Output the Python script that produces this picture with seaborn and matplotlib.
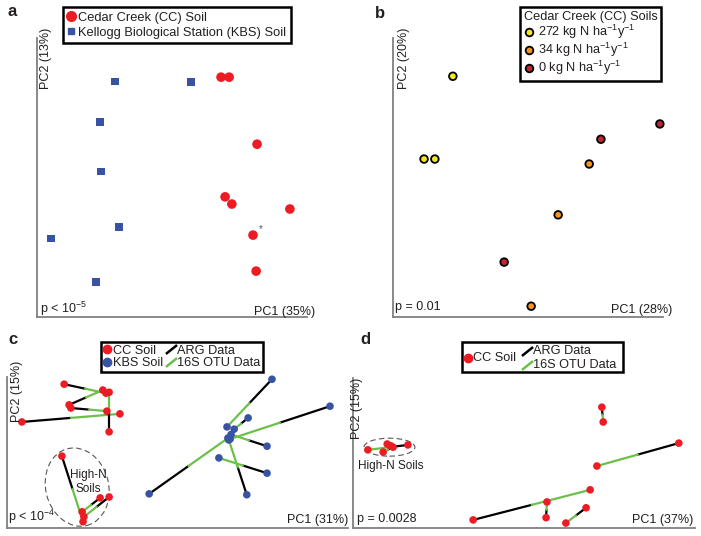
import pandas as pd
import seaborn as sns
import matplotlib.pyplot as plt
from matplotlib.lines import Line2D
from matplotlib.patches import Ellipse, Rectangle

sns.set_style('white')
plt.rcParams['font.family'] = ['Liberation Sans', 'DejaVu Sans']
plt.rcParams['mathtext.default'] = 'regular'
plt.rcParams['text.color'] = '#231f20'

RED = '#ed1c24'
BLUE = '#3953a4'
GREEN = '#6cc04a'
GREY = '#808080'
INK = '#231f20'

# ---- panel a: ARG ordination, both sites
a_soil = ['CC'] * 8 + ['KBS'] * 7
a_pc1 = [0.109, 0.127, 0.189, 0.118, 0.133, 0.262, 0.180, 0.187,
         -0.127, 0.042, -0.160, -0.158, -0.118, -0.269, -0.169]
a_pc2 = [0.222, 0.222, 0.073, -0.044, -0.060, -0.071, -0.129, -0.209,
         0.213, 0.211, 0.122, 0.013, -0.111, -0.136, -0.233]

# ---- panel b: Cedar Creek only, by N level
b_level = ['272'] * 3 + ['34'] * 3 + ['0'] * 3
b_pc1 = [-0.167, -0.231, -0.207, 0.136, 0.067, 0.007, 0.162, 0.293, -0.053]
b_pc2 = [0.224, 0.040, 0.040, 0.029, -0.084, -0.287, 0.084, 0.118, -0.189]

# ---- panel c: procrustes ARG vs 16S, both sites
c_soil = ['CC'] * 8 + ['KBS'] * 7
c_arg_pc1 = [-0.252, -0.241, -0.237, -0.346, -0.152, -0.257, -0.172, -0.152,
             0.210, 0.339, 0.157, 0.199, 0.199, 0.154, -0.063]
c_arg_pc2 = [0.152, 0.106, 0.099, 0.068, 0.046, -0.008, -0.101, -0.099,
             0.163, 0.103, 0.077, 0.014, -0.046, -0.094, -0.092]
c_otu_pc1 = [-0.159, -0.166, -0.157, -0.128, -0.152, -0.210, -0.212, -0.208,
             0.110, 0.117, 0.126, 0.119, 0.092, 0.114, 0.112]
c_otu_pc2 = [0.132, 0.139, 0.092, 0.086, 0.134, -0.154, -0.132, -0.143,
             0.057, 0.030, 0.052, 0.040, -0.012, 0.028, 0.032]

# ---- panel d: procrustes ARG vs 16S, Cedar Creek only
d_arg_pc1 = [0.173, 0.344, -0.113, 0.049, 0.138, -0.258, -0.296, -0.291]
d_arg_pc2 = [0.102, 0.022, -0.149, -0.144, -0.122, 0.018, 0.016, 0.013]
d_otu_pc1 = [0.176, 0.162, 0.147, 0.051, 0.093, -0.347, -0.304, -0.313]
d_otu_pc2 = [0.069, -0.029, -0.082, -0.109, -0.156, 0.007, 0.020, 0.002]

W, H = 701, 536
fig = plt.figure(figsize=(W / 100, H / 100), dpi=100)


def panel(l, t, r, b, xlim, ylim):
    ax = fig.add_axes([l / W, 1 - b / H, (r - l) / W, (b - t) / H])
    ax.set_xlim(*xlim)
    ax.set_ylim(*ylim)
    for s in ['top', 'right']:
        ax.spines[s].set_visible(False)
    for s in ['left', 'bottom']:
        ax.spines[s].set_color(GREY)
        ax.spines[s].set_linewidth(1.3)
    ax.set_xticks([])
    ax.set_yticks([])
    ax.patch.set_alpha(0)
    return ax


def labels(ax, pc1, pc2, p, p1pos, p2pos, ppos):
    ax.text(p2pos[0], p2pos[1], pc2, rotation=90, ha='center', va='top',
            fontsize=9, transform=ax.transAxes)
    ax.text(p1pos[0], p1pos[1], pc1, ha='right', va='center',
            fontsize=9, transform=ax.transAxes)
    ax.text(ppos[0], ppos[1], p, ha='left', va='center',
            fontsize=9, transform=ax.transAxes)


def procrustes(ax, ax1, ay1, ox1, oy1, colors):
    for x1, y1, x2, y2 in zip(ax1, ay1, ox1, oy1):
        mx, my = (x1 + x2) / 2, (y1 + y2) / 2
        ax.plot([x1, mx], [y1, my], color='black', lw=1.6, zorder=2)
        ax.plot([mx, x2], [my, y2], color=GREEN, lw=1.6, zorder=2)
    pts = pd.DataFrame({'x': list(ax1) + list(ox1), 'y': list(ay1) + list(oy1),
                        'c': list(colors) * 2})
    sns.scatterplot(data=pts, x='x', y='y', hue='c', palette={RED: RED, BLUE: BLUE},
                    s=30, edgecolor='none', legend=False, ax=ax, zorder=3, clip_on=False)
    ax.set_xlabel('')
    ax.set_ylabel('')


def boxed(leg):
    leg.get_frame().set_linewidth(1.8)
    for t in leg.get_texts():
        t.set_color(INK)


# ================= a
ax_a = panel(37, 38, 307, 317, (-0.300, 0.300), (-0.311, 0.309))
df_a = pd.DataFrame({'PC1': a_pc1, 'PC2': a_pc2, 'soil': a_soil})
sns.scatterplot(data=df_a[df_a.soil == 'CC'], x='PC1', y='PC2', color=RED, marker='o',
                s=48, edgecolor='none', legend=False, ax=ax_a, clip_on=False)
sns.scatterplot(data=df_a[df_a.soil == 'KBS'], x='PC1', y='PC2', color=BLUE, marker='s',
                s=28, edgecolor='none', legend=False, ax=ax_a, clip_on=False)
ax_a.set_xlabel('')
ax_a.set_ylabel('')
ax_a.text(a_pc1[6] + 0.012, a_pc2[6] + 0.006, '*', fontsize=7, color='#555555')
labels(ax_a, 'PC1 (35%)', 'PC2 (13%)', 'p < 10$^{-5}$',
       (1.03, 0.018), (0.033, 1.036), (0.011, 0.028))
leg_a = fig.legend(handles=[Line2D([], [], ls='', marker='o', color=RED, markersize=7),
                            Line2D([], [], ls='', marker='s', color=BLUE, markersize=5)],
                   labels=['Cedar Creek (CC) Soil', 'Kellogg Biological Station (KBS) Soil'],
                   loc='upper left', bbox_to_anchor=(63 / W, 1 - 7 / H), fontsize=9.3,
                   fancybox=False, edgecolor='black', framealpha=1, borderpad=0.35,
                   labelspacing=0.25, handlelength=0.6, handletextpad=0.25, borderaxespad=0)
boxed(leg_a)

# ================= b
ax_b = panel(393, 38, 663, 317, (-0.300, 0.300), (-0.311, 0.309))
df_b = pd.DataFrame({'PC1': b_pc1, 'PC2': b_pc2, 'N': b_level})
pal_b = {'272': '#f5e61e', '34': '#f7941d', '0': '#c1272d'}
sns.scatterplot(data=df_b, x='PC1', y='PC2', hue='N', palette=pal_b, s=30,
                edgecolor='black', linewidth=1.3, legend=False, ax=ax_b, clip_on=False)
ax_b.set_xlabel('')
ax_b.set_ylabel('')
labels(ax_b, 'PC1 (28%)', 'PC2 (20%)', 'p = 0.01',
       (1.033, 0.025), (0.041, 1.036), (0.007, 0.036))
leg_b = fig.legend(handles=[Line2D([], [], ls='', marker='o', markerfacecolor=pal_b[k],
                                   markeredgecolor='black', markeredgewidth=1.3, markersize=5.5)
                            for k in ['272', '34', '0']],
                   labels=['272 kg N ha$^{-1}$y$^{-1}$', '34 kg N ha$^{-1}$y$^{-1}$',
                           '0 kg N ha$^{-1}$y$^{-1}$'],
                   title='Cedar Creek (CC) Soils', title_fontsize=9.2,
                   loc='upper left', bbox_to_anchor=(520 / W, 1 - 7 / H), fontsize=9.2,
                   fancybox=False, edgecolor='black', framealpha=1, borderpad=0.3,
                   labelspacing=0.0, handlelength=0.8, handletextpad=0.3, borderaxespad=0)
boxed(leg_b)
leg_b.get_title().set_color(INK)
leg_b._legend_box.align = 'left'

# ================= c
ax_c = panel(7, 377, 348, 528, (-0.379, 0.379), (-0.168, 0.168))
procrustes(ax_c, c_arg_pc1, c_arg_pc2, c_otu_pc1, c_otu_pc2,
           [RED if s == 'CC' else BLUE for s in c_soil])
ax_c.add_patch(Ellipse((-0.223, -0.077), 0.140, 0.176, angle=14, fill=False,
                       ls=(0, (5, 3)), ec='#555555', lw=0.8))
ax_c.text(-0.199, -0.066, 'High-N\nSoils', ha='center', va='center', fontsize=8.5,
          linespacing=1.2)
labels(ax_c, 'PC1 (31%)', 'PC2 (15%)', 'p < 10$^{-4}$',
       (1.0, 0.053), (0.03, 1.11), (0.003, 0.075))

slash = [(-1, -0.8), (1, 0.8)]
line_h = [Line2D([], [], ls='', marker=slash, markeredgecolor='black', markeredgewidth=1.8,
                 markersize=8),
          Line2D([], [], ls='', marker=slash, markeredgecolor=GREEN, markeredgewidth=1.8,
                 markersize=8)]
dot = lambda c: Line2D([], [], ls='', marker='o', color=c, markersize=6)
leg_c = fig.legend(handles=[dot(RED), dot(BLUE)] + line_h,
                   labels=['CC Soil', 'KBS Soil', 'ARG Data', '16S OTU Data'], ncol=2,
                   loc='upper left', bbox_to_anchor=(101 / W, 1 - 342 / H), fontsize=9.2,
                   fancybox=False, edgecolor='black', framealpha=1, borderpad=0.2,
                   labelspacing=0.05, handlelength=0.55, handletextpad=0.2,
                   columnspacing=0.35, borderaxespad=0)
boxed(leg_c)

# ================= d
ax_d = panel(353, 378, 695, 528, (-0.380, 0.380), (-0.167, 0.167))
procrustes(ax_d, d_arg_pc1, d_arg_pc2, d_otu_pc1, d_otu_pc2, [RED] * 8)
ax_d.add_patch(Ellipse((-0.299, 0.013), 0.113, 0.040, fill=False,
                       ls=(0, (5, 3)), ec='#555555', lw=0.8))
ax_d.text(-0.296, -0.029, 'High-N Soils', ha='center', va='center', fontsize=8.5)
labels(ax_d, 'PC1 (37%)', 'PC2 (15%)', 'p = 0.0028',
       (0.994, 0.053), (0.012, 1.0), (0.012, 0.06))

fig.add_artist(Rectangle((462 / W, 1 - 372 / H), 161 / W, 30 / H, transform=fig.transFigure,
                         fill=False, ec='black', lw=1.8))
fig.add_artist(Line2D([468 / W], [1 - 358 / H], ls='', marker='o', color=RED, markersize=6,
                      transform=fig.transFigure))
fig.text(473 / W, 1 - 358 / H, 'CC Soil', fontsize=9.2, va='center')
fig.add_artist(Line2D([527 / W], [1 - 351 / H], ls='', marker=slash, markeredgecolor='black',
                      markeredgewidth=1.8, markersize=8, transform=fig.transFigure))
fig.add_artist(Line2D([527 / W], [1 - 365 / H], ls='', marker=slash, markeredgecolor=GREEN,
                      markeredgewidth=1.8, markersize=8, transform=fig.transFigure))
fig.text(533 / W, 1 - 351 / H, 'ARG Data', fontsize=9.2, va='center')
fig.text(533 / W, 1 - 365 / H, '16S OTU Data', fontsize=9.2, va='center')

# panel letters
for tag, x, y in [('a', 7, 12), ('b', 375, 13), ('c', 8, 340), ('d', 360, 339)]:
    fig.text(x / W, 1 - y / H, tag, fontsize=12, fontweight='bold', va='center')

fig.savefig('out.png', dpi=100)
